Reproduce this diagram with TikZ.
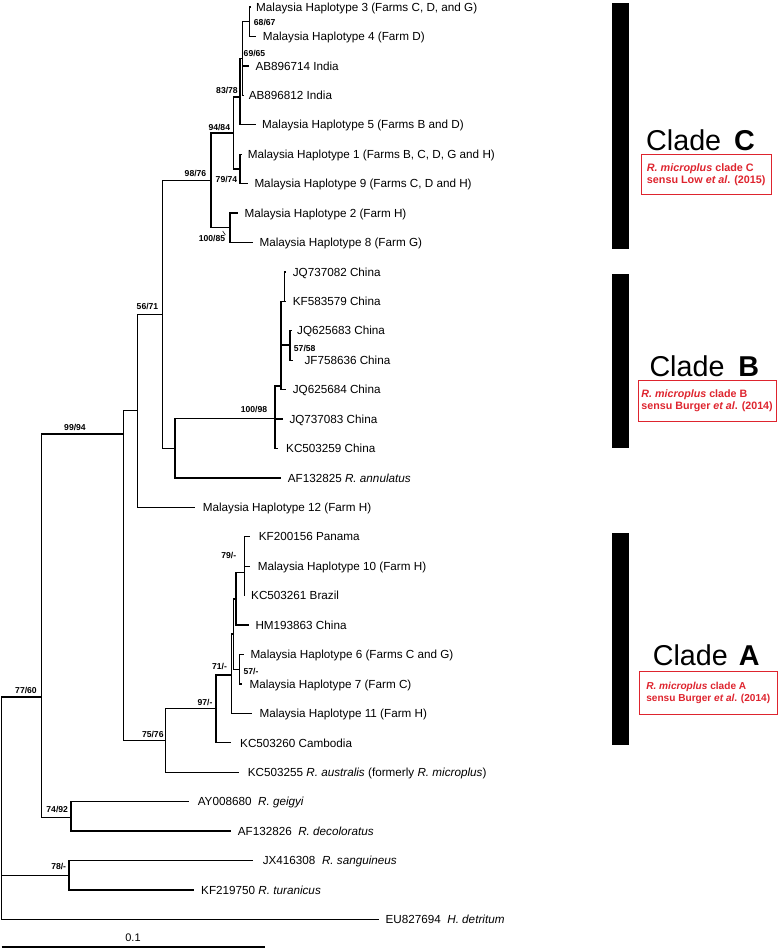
\documentclass[tikz,border=0pt]{standalone}
\usepackage{fontspec}
\setmainfont{Liberation Sans}
\definecolor{cred}{RGB}{222,36,46}
\begin{document}
\begin{tikzpicture}[x=1pt,y=-1pt,
  br/.style={line width=1.3pt},
  leaf/.style={anchor=base west, inner sep=0pt, font=\fontsize{11.7}{14}\selectfont, yshift=-4.2pt},
  bs/.style={anchor=base, inner sep=0pt, font=\bfseries\fontsize{8.6}{10}\selectfont, yshift=-3.1pt},
  cladelbl/.style={anchor=base west, inner sep=0pt, font=\fontsize{28.7}{34}\selectfont, yshift=-10.3pt},
  refbox/.style={draw=cred, line width=0.8pt, text=cred, anchor=north west, align=left, inner sep=0pt}
]
\useasboundingbox (0,0) rectangle (778,952);

% ---------- internal nodes ----------
\coordinate (root) at (1.7,808);
\coordinate (n77) at (41.7,697);
\coordinate (n74) at (71,817.3);
\coordinate (n78) at (69,875.2);
\coordinate (n99) at (123.3,434);
\coordinate (nH12) at (137.7,410.8);
\coordinate (n56) at (162.7,314.3);
\coordinate (n98) at (211,180.4);
\coordinate (n94) at (233.3,133);
\coordinate (n83) at (240,97);
\coordinate (n69) at (242.3,58.5);
\coordinate (n68) at (249.3,21.7);
\coordinate (n79c) at (240,168.9);
\coordinate (n100c) at (230,227.7);
\coordinate (nAF) at (175,448.2);
\coordinate (nCh) at (275,418.3);
\coordinate (nb) at (281,386);
\coordinate (nc) at (284.5,301.3);
\coordinate (n57b) at (290,345);
\coordinate (n75) at (165.7,740.5);
\coordinate (n97) at (216,708.6);
\coordinate (n71) at (231.7,675);
\coordinate (nx2) at (233.3,634);
\coordinate (nx1) at (236,599);
\coordinate (n79a) at (244.3,572.7);
\coordinate (n57a) at (239.3,669.2);

% ---------- leaf tips ----------
\coordinate (pH3) at (250.5,7.0);
\coordinate (pH4) at (256.3,36.4);
\coordinate (pAB1) at (249,65.9);
\coordinate (pAB2) at (243.5,95.3);
\coordinate (pH5) at (255.7,124.7);
\coordinate (pH1) at (242,154.2);
\coordinate (pH9) at (248,183.6);
\coordinate (pH2) at (238,213.0);
\coordinate (pH8) at (253,242.4);
\coordinate (pJQ1) at (285.5,271.9);
\coordinate (pKF5) at (285.5,301.3);
\coordinate (pJQ3) at (291.5,330.7);
\coordinate (pJF) at (293.3,360.2);
\coordinate (pJQ4) at (285.7,389.6);
\coordinate (pJQ2) at (282.7,419.0);
\coordinate (pKC9) at (278.3,448.5);
\coordinate (pAF5) at (281,477.9);
\coordinate (pH12) at (195,507.3);
\coordinate (pKF2) at (250,536.7);
\coordinate (pH10) at (250,566.2);
\coordinate (pKC1) at (244.8,595.6);
\coordinate (pHM) at (249,625.0);
\coordinate (pH6) at (244.3,654.5);
\coordinate (pH7) at (241.7,683.9);
\coordinate (pH11) at (251.7,713.3);
\coordinate (pKC0) at (230.7,742.8);
\coordinate (pKC5) at (239.3,772.2);
\coordinate (pAY) at (189.3,801.6);
\coordinate (pAF6) at (231,831.0);
\coordinate (pJX) at (253.3,860.5);
\coordinate (pKF7) at (194,889.9);
\coordinate (pEU) at (379.3,919.3);

% ---------- branches ----------
\foreach \p/\c in {root/n77, root/n78, root/pEU,
  n77/n99, n77/n74, n74/pAY, n74/pAF6, n78/pJX, n78/pKF7,
  n99/nH12, n99/n75, nH12/n56, nH12/pH12,
  n56/n98, n56/nAF,
  n98/n94, n98/n100c, n94/n83, n94/n79c, n83/n69, n83/pH5,
  n69/n68, n69/pAB1, n69/pAB2, n68/pH3, n68/pH4,
  n79c/pH1, n79c/pH9, n100c/pH2, n100c/pH8,
  nAF/nCh, nAF/pAF5, nCh/nb, nCh/pJQ2, nCh/pKC9,
  nb/nc, nb/n57b, nb/pJQ4, nc/pJQ1, nc/pKF5, n57b/pJQ3, n57b/pJF,
  n75/n97, n75/pKC5, n97/n71, n97/pKC0, n71/nx2, n71/pH11,
  nx2/nx1, nx2/n57a, nx1/n79a, nx1/pHM,
  n79a/pKF2, n79a/pH10, n79a/pKC1, n57a/pH6, n57a/pH7}
  \draw[br] (\p) |- (\c);

% ---------- leaf labels ----------
\node[leaf] (tH3) at (256,7.0) {Malaysia Haplotype 3 (Farms C, D, and G)};
\node[leaf] (tH4) at (262.6,36.4) {Malaysia Haplotype 4 (Farm D)};
\node[leaf] (tAB1) at (255.3,65.9) {AB896714 India};
\node[leaf] (tAB2) at (248.6,95.3) {AB896812 India};
\node[leaf] (tH5) at (262,124.7) {Malaysia Haplotype 5 (Farms B and D)};
\node[leaf] (tH1) at (247.6,154.2) {Malaysia Haplotype 1 (Farms B, C, D, G and H)};
\node[leaf] (tH9) at (254.3,183.6) {Malaysia Haplotype 9 (Farms C, D and H)};
\node[leaf] (tH2) at (244.3,213.0) {Malaysia Haplotype 2 (Farm H)};
\node[leaf] (tH8) at (259.3,242.4) {Malaysia Haplotype 8 (Farm G)};
\node[leaf] (tJQ1) at (292.6,271.9) {JQ737082 China};
\node[leaf] (tKF5) at (292.6,301.3) {KF583579 China};
\node[leaf] (tJQ3) at (297,330.7) {JQ625683 China};
\node[leaf] (tJF) at (304.3,360.2) {JF758636 China};
\node[leaf] (tJQ4) at (292.6,389.6) {JQ625684 China};
\node[leaf] (tJQ2) at (289.3,419.0) {JQ737083 China};
\node[leaf] (tKC9) at (286,448.5) {KC503259 China};
\node[leaf] (tAF5) at (287.6,477.9) {AF132825 \textit{R. annulatus}};
\node[leaf] (tH12) at (202.6,507.3) {Malaysia Haplotype 12 (Farm H)};
\node[leaf] (tKF2) at (258.6,536.7) {KF200156 Panama};
\node[leaf] (tH10) at (257.6,566.2) {Malaysia Haplotype 10 (Farm H)};
\node[leaf] (tKC1) at (251,595.6) {KC503261 Brazil};
\node[leaf] (tHM) at (255.3,625.0) {HM193863 China};
\node[leaf] (tH6) at (250.3,654.5) {Malaysia Haplotype 6 (Farms C and G)};
\node[leaf] (tH7) at (249.3,683.9) {Malaysia Haplotype 7 (Farm C)};
\node[leaf] (tH11) at (259.3,713.3) {Malaysia Haplotype 11 (Farm H)};
\node[leaf] (tKC0) at (240,742.8) {KC503260 Cambodia};
\node[leaf] (tKC5) at (247.6,772.2) {KC503255 \textit{R. australis} (formerly \textit{R. microplus})};
\node[leaf] (tAY) at (197.6,801.6) {AY008680\ \ \textit{R. geigyi}};
\node[leaf] (tAF6) at (237.6,831.0) {AF132826\ \ \textit{R. decoloratus}};
\node[leaf] (tJX) at (262.6,860.5) {JX416308\ \ \textit{R. sanguineus}};
\node[leaf] (tKF7) at (201,889.9) {KF219750 \textit{R. turanicus}};
\node[leaf] (tEU) at (385.3,919.3) {EU827694\ \ \textit{H. detritum}};

% ---------- support values ----------
\node[bs] (b1) at (264.7,22.7) {68/67};
\node[bs] (b2) at (254.5,53.3) {69/65};
\node[bs] (b3) at (227,90.7) {83/78};
\node[bs] (b4) at (219.3,127.3) {94/84};
\node[bs] (b5) at (195.5,173.3) {98/76};
\node[bs] (b6) at (226.5,179.3) {79/74};
\node[bs] (b7) at (212,238.3) {100/85};
\coordinate (b7t) at (222.7,231);
\draw[line width=0.5pt] (b7.north east) -- (b7t);
\node[bs] (b8) at (147.5,306) {56/71};
\node[bs] (b9) at (254,409.3) {100/98};
\node[bs] (b10) at (304.7,348.3) {57/58};
\node[bs] (b11) at (75,427) {99/94};
\node[bs] (b12) at (228.8,555) {79/-};
\node[bs] (b13) at (219.5,666.7) {71/-};
\node[bs] (b14) at (251,671.7) {57/-};
\node[bs] (b15) at (205,702.7) {97/-};
\node[bs] (b16) at (152.8,734.3) {75/76};
\node[bs] (b17) at (26,690) {77/60};
\node[bs] (b18) at (57.2,809.3) {74/92};
\node[bs] (b19) at (58.7,866.7) {78/-};

% ---------- scale bar ----------
\coordinate (sbL) at (1.7,947);
\coordinate (sbR) at (265,947);
\draw[br] (sbL) -- (sbR);
\node[anchor=base, inner sep=0pt, font=\fontsize{11}{13}\selectfont, yshift=-4pt] (sbT) at (133,937) {0.1};

% ---------- clade bars ----------
\fill (612.3,3.3) rectangle (629.3,249.3);
\fill (612.3,274) rectangle (629.3,447.7);
\fill (612.3,533.3) rectangle (629.3,745);

% ---------- clade labels ----------
\node[cladelbl] (cC) at (646,140) {Clade\hspace{13pt}\textbf{C}};
\node[cladelbl] (cB) at (649.3,365.7) {Clade\hspace{14pt}\textbf{B}};
\node[cladelbl] (cA) at (652.6,655) {Clade\hspace{11pt}\textbf{A}};

\node[refbox, minimum width=129.7pt, minimum height=40pt,
  font=\bfseries\fontsize{10.8}{11.5}\selectfont] (rC) at (641,154.3)
  {\textit{R. microplus} clade C\\sensu Low \textit{et al}. (2015)};
\node[refbox, minimum width=138pt, minimum height=40.4pt,
  font=\bfseries\fontsize{10.7}{12.5}\selectfont] (rB) at (637.7,380.3)
  {\textit{R. microplus} clade B\\sensu Burger \textit{et al}. (2014)};
\node[refbox, minimum width=137.7pt, minimum height=43pt,
  font=\bfseries\fontsize{10.1}{11.5}\selectfont] (rA) at (639,671)
  {\textit{R. microplus} clade A\\sensu Burger \textit{et al}. (2014)};
\end{tikzpicture}
\end{document}
